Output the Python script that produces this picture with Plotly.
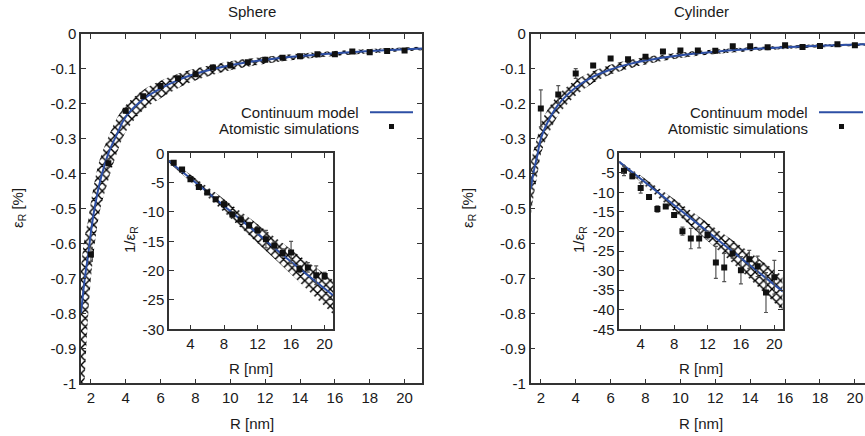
import plotly.graph_objects as go

W, H = 865, 436
FONT = "Liberation Sans, Arial, Helvetica, sans-serif"
FS = 15
BLUE = "#2d4fa5"
INK = "#1a1a1a"

# ---------------- data ----------------
R_pts = [2, 3, 4, 5, 6, 7, 8, 9, 10, 11, 12, 13, 14, 15, 16, 17, 18, 19, 20]

# sphere, main panel: eps_R [%]
sph_eps = [-0.631, -0.370, -0.220, -0.178, -0.149, -0.127, -0.115, -0.096, -0.090, -0.081,
           -0.074, -0.068, -0.064, -0.058, -0.058, -0.050, -0.052, -0.049, -0.047]
sph_eps_err = [0.02, 0.012, 0.005, 0.004, 0.003, 0.003, 0.003, 0.003, 0.003, 0.003,
               0.003, 0.003, 0.003, 0.003, 0.003, 0.003, 0.003, 0.003, 0.003]
R_sph_model = [1.43, 1.55, 1.7, 1.85, 2.0, 2.2, 2.5, 3.0, 3.5, 4.0, 5.0, 6.0, 7.0, 8.0,
               10.0, 12.0, 14.0, 16.0, 18.0, 21.0]
sph_model = [-0.80, -0.742, -0.68, -0.63, -0.567, -0.501, -0.427, -0.342, -0.286, -0.237,
             -0.187, -0.156, -0.132, -0.114, -0.0895, -0.0740, -0.0632, -0.0551, -0.0489, -0.0418]
sph_model_hi = [-0.666, -0.615, -0.565, -0.53, -0.48, -0.425, -0.36, -0.295, -0.24, -0.203,
                -0.16, -0.134, -0.114, -0.099, -0.078, -0.065, -0.0555, -0.0485, -0.043, -0.0368]
sph_model_lo = [-1.2, -1.08, -0.93, -0.80, -0.70, -0.61, -0.51, -0.418, -0.34, -0.28,
                -0.218, -0.184, -0.155, -0.133, -0.104, -0.085, -0.0725, -0.063, -0.0553, -0.0468]

# sphere, inset: 1/eps_R
sph_inv = [-1.59, -2.78, -4.42, -5.73, -6.69, -7.83, -8.68, -10.43, -11.28, -12.25,
           -13.1, -14.63, -15.71, -17.0, -16.9, -19.74, -19.45, -20.8, -20.9]
sph_inv_err = [0.2, 0.2, 0.3, 0.3, 0.3, 0.3, 0.3, 0.4, 0.4, 0.5,
               0.6, 1.5, 0.6, 0.7, 1.9, 0.6, 0.8, 1.6, 0.6]
R_inset_model = [1.43, 6.0, 11.0, 16.0, 21.0]
sph_inv_model = [-1.3, -6.6, -12.5, -18.5, -24.2]
sph_inv_hi = [-1.0, -5.7, -11.0, -16.4, -21.6]
sph_inv_lo = [-1.6, -7.4, -14.0, -20.6, -27.4]

# cylinder, main panel: eps_R [%]
cyl_eps = [-0.213, -0.173, -0.113, -0.090, -0.070, -0.072, -0.065, -0.050, -0.047, -0.047,
           -0.048, -0.035, -0.035, -0.038, -0.032, -0.037, -0.034, -0.029, -0.032]
cyl_eps_err = [0.053, 0.025, 0.014, 0.004, 0.004, 0.003, 0.003, 0.003, 0.003, 0.003,
               0.003, 0.003, 0.003, 0.003, 0.003, 0.003, 0.003, 0.003, 0.003]
R_cyl_model = [1.42, 1.6, 1.8, 2.0, 2.3, 2.6, 3.0, 3.5, 4.0, 5.0, 6.0, 7.0, 8.0,
               10.0, 12.0, 14.0, 16.0, 18.0, 21.0]
cyl_model = [-0.444, -0.392, -0.347, -0.300, -0.262, -0.233, -0.202, -0.175, -0.153, -0.122,
             -0.1015, -0.0869, -0.0759, -0.0606, -0.0505, -0.0432, -0.0378, -0.0336, -0.0288]
cyl_model_hi = [-0.37, -0.33, -0.295, -0.255, -0.225, -0.20, -0.173, -0.151, -0.132, -0.106,
                -0.088, -0.0755, -0.066, -0.053, -0.0443, -0.038, -0.0333, -0.0297, -0.0256]
cyl_model_lo = [-0.52, -0.46, -0.405, -0.345, -0.302, -0.27, -0.232, -0.202, -0.176, -0.140,
                -0.116, -0.0995, -0.087, -0.069, -0.0575, -0.0492, -0.043, -0.0382, -0.0326]

# cylinder, inset: 1/eps_R
cyl_inv = [-4.49, -5.88, -8.86, -11.17, -14.25, -13.58, -15.79, -19.9, -21.8, -21.8,
           -20.9, -27.9, -29.2, -25.6, -29.9, -27.1, -28.9, -35.6, -31.7]
cyl_inv_err = [1.2, 0.6, 1.3, 0.3, 0.8, 0.4, 0.4, 1.0, 2.6, 2.4,
               1.0, 4.1, 3.6, 1.2, 3.5, 2.3, 2.6, 5.1, 4.3]
cyl_inv_model = [-2.2, -9.9, -18.3, -26.8, -35.3]
cyl_inv_hi = [-1.9, -8.7, -16.2, -23.7, -31.4]
cyl_inv_lo = [-2.6, -11.1, -20.5, -30.0, -40.3]

# ticks
main_xticks = [2, 4, 6, 8, 10, 12, 14, 16, 18, 20]
main_yticks = [0, -0.1, -0.2, -0.3, -0.4, -0.5, -0.6, -0.7, -0.8, -0.9, -1]
main_ytext = ["0", "-0.1", "-0.2", "-0.3", "-0.4", "-0.5", "-0.6", "-0.7", "-0.8", "-0.9", "-1"]
inset_xticks = [4, 8, 12, 16, 20]
sph_inset_yticks = [0, -5, -10, -15, -20, -25, -30]
cyl_inset_yticks = [0, -5, -10, -15, -20, -25, -30, -35, -40, -45]


def px(x):
    return x / W


def py(y):
    return 1 - y / H


fig = go.Figure()


def add_panel(xa, ya, R_model, hi, lo, mid, R_dots, dots, errs):
    fig.add_trace(go.Scatter(x=R_model, y=hi, mode="lines", line=dict(width=0, shape="spline"),
                             xaxis=xa, yaxis=ya, showlegend=False, hoverinfo="skip"))
    fig.add_trace(go.Scatter(x=R_model, y=lo, mode="lines", line=dict(width=0, shape="spline"),
                             fill="tonexty", fillcolor="white",
                             fillpattern=dict(shape="x", fgcolor="black", bgcolor="white",
                                              fgopacity=1, size=6, solidity=0.42),
                             xaxis=xa, yaxis=ya, showlegend=False, hoverinfo="skip"))
    fig.add_trace(go.Scatter(x=R_model, y=mid, mode="lines",
                             line=dict(color=BLUE, width=2, shape="spline"),
                             xaxis=xa, yaxis=ya, showlegend=False))
    fig.add_trace(go.Scatter(x=R_dots, y=dots, mode="markers",
                             marker=dict(symbol="square", size=6, color="#111"),
                             error_y=dict(type="data", array=errs, color="#555",
                                          thickness=1.2, width=2),
                             xaxis=xa, yaxis=ya, showlegend=False))


add_panel("x", "y", R_sph_model, sph_model_hi, sph_model_lo, sph_model, R_pts, sph_eps, sph_eps_err)
add_panel("x2", "y2", R_inset_model, sph_inv_hi, sph_inv_lo, sph_inv_model, R_pts, sph_inv, sph_inv_err)
add_panel("x3", "y3", R_cyl_model, cyl_model_hi, cyl_model_lo, cyl_model, R_pts, cyl_eps, cyl_eps_err)
add_panel("x4", "y4", R_inset_model, cyl_inv_hi, cyl_inv_lo, cyl_inv_model, R_pts, cyl_inv, cyl_inv_err)


def axis(domain, rng, tickvals, ticktext, mirror, anchor):
    return dict(domain=domain, range=rng, tickvals=tickvals, ticktext=ticktext,
                ticks="inside", ticklen=5, tickwidth=1, tickcolor="#333",
                showline=True, linecolor="#333", linewidth=1.5, mirror=mirror,
                showgrid=False, zeroline=False, anchor=anchor, automargin=False,
                tickfont=dict(size=FS, family=FONT, color=INK))


main_top, main_bot = 34, 383.3
ins_top, ins_bot = 153.3, 329.3

fig.update_layout(
    width=W, height=H,
    margin=dict(l=0, r=0, t=0, b=0, pad=0, autoexpand=False),
    paper_bgcolor="white", plot_bgcolor="white",
    xaxis=axis([px(81), px(422)], [1.43, 21.0], main_xticks, [str(v) for v in main_xticks], "allticks", "y"),
    yaxis=axis([py(main_bot), py(main_top)], [-1, 0], main_yticks, main_ytext, "allticks", "x"),
    xaxis2=axis([px(169), px(333)], [1.44, 21.0], inset_xticks, [str(v) for v in inset_xticks], "allticks", "y2"),
    yaxis2=axis([py(ins_bot), py(ins_top)], [-30, 0], sph_inset_yticks, [str(v) for v in sph_inset_yticks], "allticks", "x2"),
    xaxis3=axis([px(530.7), 1.0], [1.42, 20.58], main_xticks, [str(v) for v in main_xticks], "allticks", "y3"),
    yaxis3=axis([py(main_bot), py(main_top)], [-1, 0], main_yticks, main_ytext, False, "x3"),
    xaxis4=axis([px(619.3), px(782.7)], [1.44, 21.0], inset_xticks, [str(v) for v in inset_xticks], "allticks", "y4"),
    yaxis4=axis([py(ins_bot), py(ins_top)], [-45, 0], cyl_inset_yticks, [str(v) for v in cyl_inset_yticks], "allticks", "x4"),
)

annotations = []


def label(text, x, y, angle=0, xanchor="center"):
    annotations.append(dict(text=text, x=px(x), y=py(y), xref="paper", yref="paper",
                            showarrow=False, xanchor=xanchor, yanchor="middle", textangle=angle,
                            font=dict(size=FS, family=FONT, color=INK)))


label("Sphere", 251.5, 11)
label("Cylinder", 701, 11)
label("R [nm]", 251.5, 423)
label("R [nm]", 701, 423)
label("R [nm]", 251, 368)
label("R [nm]", 701, 368)
label("ε<sub>R</sub> [%]", 18, 208, -90)
label("ε<sub>R</sub> [%]", 468, 208, -90)
label("1/ε<sub>R</sub>", 130, 240, -90)
label("1/ε<sub>R</sub>", 579, 240, -90)

# gnuplot-style key: text on the left, sample on the right
shapes = []
for text_right, line_x0, line_x1, mark_x in [(361, 370, 413, 391.5), (810, 819, 863, 841.5)]:
    label("Continuum model", text_right, 112, xanchor="right")
    label("Atomistic simulations", text_right, 128, xanchor="right")
    shapes.append(dict(type="line", xref="paper", yref="paper", x0=px(line_x0), x1=px(line_x1),
                       y0=py(112.3), y1=py(112.3), line=dict(color=BLUE, width=2)))
    shapes.append(dict(type="rect", xref="paper", yref="paper", x0=px(mark_x - 2.5), x1=px(mark_x + 2.5),
                       y0=py(129), y1=py(124), fillcolor="#111", line=dict(width=0)))

fig.update_layout(annotations=annotations, shapes=shapes)

fig.write_html("out.html", config={"displayModeBar": False},
               post_script="document.body.style.margin='0';")
